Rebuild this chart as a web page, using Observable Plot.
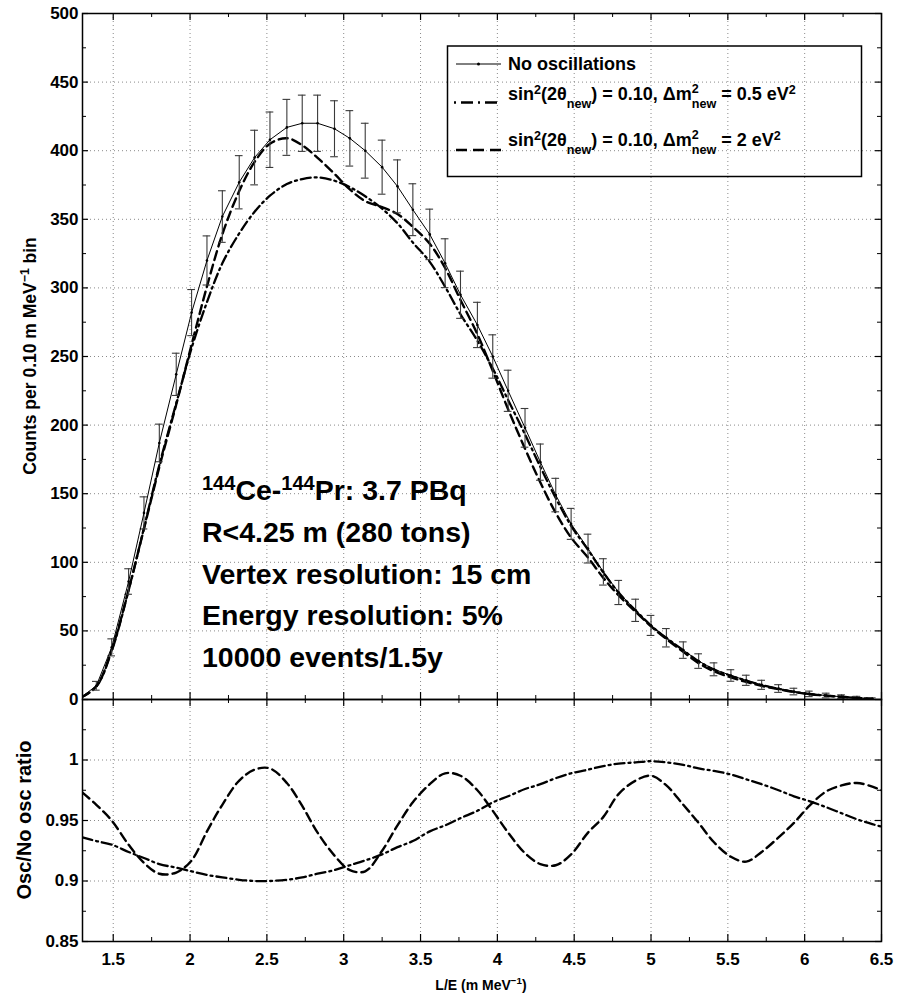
<!DOCTYPE html>
<html>
<head>
<meta charset="utf-8">
<script src="https://cdn.jsdelivr.net/npm/d3@7"></script>
<script src="https://cdn.jsdelivr.net/npm/@observablehq/plot@0.6"></script>
<style>
  body { margin: 0; background: #fff; }
  #wrap { position: relative; width: 904px; height: 996px; overflow: hidden;
          font-family: "Liberation Sans", Arial, Helvetica, sans-serif; font-weight: bold; color: #000; }
  #wrap svg { overflow: visible; }
  #topPlot { position: absolute; left: 0; top: 0; }
  #botPlot { position: absolute; left: 0; top: 699px; }
  .ov { position: absolute; white-space: nowrap; }
  .lg { font-size: 18px; line-height: 18px; }
  .sp { font-size: 0.7em; position: relative; top: -0.5em; }
  .sb { font-size: 0.7em; position: relative; top: 0.6em; }
  .stk { font-size: 0.7em; position: relative; top: 0.6em; }
  .stk2 { position: absolute; left: 0; top: -13.2px; line-height: 1; }
  .ann { font-size: 28.5px; line-height: 28px; }
  .ann .asp { font-size: 20px; position: relative; top: -0.5em; }
</style>
</head>
<body>
<div id="wrap">
  <div id="topPlot"></div>
  <div id="botPlot"></div>
  <svg id="legSvg" class="ov" style="left:0;top:0" width="904" height="699"></svg>

  <div class="ov lg" style="left:508px;top:55px">No oscillations</div>
  <div class="ov lg" style="left:508px;top:85px">sin<span class="sp">2</span>(2θ<span class="sb">new</span>) = 0.10, Δm<span class="stk">new<span class="stk2">2</span></span> = 0.5 eV<span class="sp">2</span></div>
  <div class="ov lg" style="left:508px;top:131px">sin<span class="sp">2</span>(2θ<span class="sb">new</span>) = 0.10, Δm<span class="stk">new<span class="stk2">2</span></span> = 2 eV<span class="sp">2</span></div>

  <div class="ov ann" style="left:202px;top:476px"><span class="asp">144</span>Ce-<span class="asp">144</span>Pr: 3.7 PBq</div>
  <div class="ov ann" style="left:202px;top:518px">R&lt;4.25 m (280 tons)</div>
  <div class="ov ann" style="left:202px;top:560px">Vertex resolution: 15 cm</div>
  <div class="ov ann" style="left:202px;top:601px">Energy resolution: 5%</div>
  <div class="ov ann" style="left:202px;top:643px">10000 events/1.5y</div>

  <div class="ov" style="left:30px;top:356px;font-size:17.5px;transform:translate(-50%,-50%) rotate(-90deg)">Counts per 0.10 m MeV<sup style="font-size:0.7em;line-height:0">−1</sup> bin</div>
  <div class="ov" style="left:24px;top:820px;font-size:20px;transform:translate(-50%,-50%) rotate(-90deg)">Osc/No osc ratio</div>
  <div class="ov" style="left:481px;top:985px;font-size:14px;transform:translate(-50%,-50%)">L/E (m MeV<sup style="font-size:0.7em;line-height:0">−1</sup>)</div>
</div>

<script>
// ---------------- data ----------------
const binX = [1.29, 1.39, 1.49, 1.60, 1.70, 1.80, 1.91, 2.01, 2.11, 2.21,
              2.32, 2.42, 2.52, 2.63, 2.73, 2.83, 2.94, 3.04, 3.14, 3.25,
              3.35, 3.45, 3.56, 3.66, 3.76, 3.87, 3.97, 4.07, 4.18, 4.28,
              4.38, 4.48, 4.59, 4.69, 4.79, 4.90, 5.00, 5.10, 5.21, 5.31,
              5.41, 5.52, 5.62, 5.72, 5.83, 5.93, 6.03, 6.14, 6.24, 6.34, 6.44];
const noOsc = [1.5, 10, 38, 86, 136, 187, 237, 282, 320, 352,
               377, 395, 408, 417, 420, 420, 416, 409, 400, 388,
               374, 357, 339, 318, 295, 273, 250, 225, 198, 173,
               149, 128, 110, 93, 78, 65, 54, 45, 36, 28,
               22, 17.5, 14, 10.7, 8, 5.8, 4.1, 2.9, 2, 1.2, 0.5];
const errHalf = [1.2, 3.2, 6.2, 9.3, 11.7, 13.7, 15.4, 16.8, 17.9, 18.8,
                 19.4, 19.9, 20.2, 20.4, 20.5, 20.5, 20.4, 20.2, 20.0, 19.7,
                 19.3, 18.9, 18.4, 17.8, 17.2, 16.5, 15.8, 15.0, 14.1, 13.2,
                 12.2, 11.3, 10.5, 9.6, 8.8, 8.1, 7.3, 6.7, 6.0, 5.3,
                 4.7, 4.2, 3.7, 3.3, 2.8, 2.4, 2.0, 1.7, 1.4, 1.1, 0.7];
const osc05Top = [1.4, 9.3, 35.3, 79.5, 125.0, 170.9, 215.9, 256.1, 289.6, 317.9,
                  339.7, 355.5, 367.2, 375.7, 379.3, 380.5, 378.1, 373.4, 366.8, 357.7,
                  347.1, 333.1, 319.0, 300.8, 280.8, 261.5, 241.3, 218.3, 193.2, 169.5,
                  146.8, 126.6, 109.1, 92.5, 77.8, 64.9, 53.9, 44.9, 35.9, 27.8,
                  21.8, 17.3, 13.8, 10.5, 7.8, 5.6, 4.0, 2.8, 1.9, 1.1, 0.5];
const osc2Top = [1.5, 9.6, 36.1, 80.0, 124.4, 169.4, 215.0, 258.6, 301.1, 339.0,
                 370.6, 391.8, 405.1, 409.1, 404.0, 394.8, 383.1, 371.8, 363.2, 358.9,
                 353.8, 344.5, 332.2, 314.5, 291.2, 266.2, 239.5, 211.5, 182.8, 158.1,
                 136.0, 118.0, 103.4, 88.6, 75.8, 63.9, 53.3, 44.1, 34.7, 26.5,
                 20.5, 16.1, 12.8, 9.9, 7.5, 5.5, 3.9, 2.8, 2.0, 1.2, 0.5];

const ratioX = [1.30, 1.39, 1.49, 1.60, 1.70, 1.80, 1.91, 2.01, 2.11, 2.21,
                2.32, 2.42, 2.52, 2.63, 2.73, 2.83, 2.94, 3.04, 3.14, 3.25,
                3.35, 3.45, 3.56, 3.66, 3.76, 3.87, 3.97, 4.07, 4.18, 4.28,
                4.38, 4.48, 4.59, 4.69, 4.79, 4.90, 5.00, 5.10, 5.21, 5.31,
                5.41, 5.52, 5.62, 5.72, 5.83, 5.93, 6.03, 6.14, 6.24, 6.34, 6.44, 6.50];
const ratio05 = [0.936, 0.933, 0.930, 0.924, 0.919, 0.914, 0.911, 0.908, 0.905, 0.903,
                 0.901, 0.900, 0.900, 0.901, 0.903, 0.906, 0.909, 0.913, 0.917, 0.922,
                 0.928, 0.933, 0.941, 0.946, 0.952, 0.958, 0.965, 0.970, 0.976, 0.980,
                 0.985, 0.989, 0.992, 0.995, 0.997, 0.998, 0.999, 0.998, 0.996, 0.993,
                 0.991, 0.988, 0.984, 0.980, 0.975, 0.970, 0.966, 0.961, 0.956, 0.951, 0.947, 0.945];
const ratio2 = [0.973, 0.963, 0.950, 0.930, 0.915, 0.906, 0.907, 0.917, 0.941, 0.963,
                0.983, 0.992, 0.993, 0.981, 0.962, 0.940, 0.921, 0.909, 0.908, 0.925,
                0.946, 0.965, 0.980, 0.989, 0.987, 0.975, 0.958, 0.940, 0.923, 0.914,
                0.913, 0.922, 0.940, 0.953, 0.972, 0.983, 0.987, 0.979, 0.963, 0.948,
                0.932, 0.920, 0.916, 0.924, 0.936, 0.948, 0.962, 0.974, 0.979, 0.981, 0.978, 0.975];

const xTickValues = [1.5, 2, 2.5, 3, 3.5, 4, 4.5, 5, 5.5, 6, 6.5];
const xTickLabels = ["1.5", "2", "2.5", "3", "3.5", "4", "4.5", "5", "5.5", "6", "6.5"];
const xMinorValues = [1.75, 2.25, 2.75, 3.25, 3.75, 4.25, 4.75, 5.25, 5.75, 6.25];
const countTickValues = [0, 50, 100, 150, 200, 250, 300, 350, 400, 450, 500];
const countTickLabels = ["0", "50", "100", "150", "200", "250", "300", "350", "400", "450", "500"];
const countMinorValues = [25, 75, 125, 175, 225, 275, 325, 375, 425, 475];
const ratioTickValues = [0.85, 0.9, 0.95, 1];
const ratioTickLabels = ["0.85", "0.9", "0.95", "1"];
const ratioMinorValues = [0.875, 0.925, 0.975, 1.025];

// ---------------- tables ----------------
const bins = binX.map((x, i) => ({x, n: noOsc[i], e: errHalf[i], d05: osc05Top[i], d2: osc2Top[i]}));
const barsData = bins.filter(d => d.x >= 1.3);
const ratios = ratioX.map((x, i) => ({x, r05: ratio05[i], r2: ratio2[i]}));
const xLab = new Map(xTickValues.map((v, i) => [v, xTickLabels[i]]));
const cLab = new Map(countTickValues.map((v, i) => [v, countTickLabels[i]]));
const rLab = new Map(ratioTickValues.map((v, i) => [v, ratioTickLabels[i]]));

const W = 904, ML = 82, MR = 23;
const PW = W - ML - MR;
const TOP_H = 699, TOP_MT = 13, PH_TOP = TOP_H - TOP_MT;
const BOT_H = 297, BOT_MB = 55, PH_BOT = BOT_H - BOT_MB;
const grid = {stroke: "#8a8a8a", strokeDasharray: "1,3", strokeWidth: 1};
const font = {fontFamily: "Liberation Sans, Arial, sans-serif", fontSize: "17px", fontWeight: "bold", background: "transparent", overflow: "visible"};

function tickMarks(xMaj, xMin, yMaj, yMin, PH) {
  return [
    Plot.tickX(xMaj, {x: d => d, insetTop: PH - 7, stroke: "black", strokeWidth: 1.2}),
    Plot.tickX(xMaj, {x: d => d, insetBottom: PH - 7, stroke: "black", strokeWidth: 1.2}),
    Plot.tickX(xMin, {x: d => d, insetTop: PH - 4, stroke: "black"}),
    Plot.tickX(xMin, {x: d => d, insetBottom: PH - 4, stroke: "black"}),
    Plot.tickY(yMaj, {y: d => d, insetRight: PW - 6, stroke: "black", strokeWidth: 1.2}),
    Plot.tickY(yMaj, {y: d => d, insetLeft: PW - 6, stroke: "black", strokeWidth: 1.2}),
    Plot.tickY(yMin, {y: d => d, insetRight: PW - 4, stroke: "black"}),
    Plot.tickY(yMin, {y: d => d, insetLeft: PW - 4, stroke: "black"})
  ];
}

const topChart = Plot.plot({
  width: W, height: TOP_H, marginTop: TOP_MT, marginBottom: 0, marginLeft: ML, marginRight: MR,
  style: font,
  x: {domain: [1.3, 6.5], axis: null},
  y: {domain: [0, 500], ticks: countTickValues, tickFormat: d => cLab.get(d), tickSize: 0, tickPadding: 4, label: null},
  marks: [
    Plot.ruleX(xTickValues.filter(v => v < 6.5), {x: d => d, ...grid}),
    Plot.ruleY(countTickValues.filter(v => v > 0 && v < 500), {y: d => d, ...grid}),
    Plot.line(bins, {x: "x", y: "d05", stroke: "black", strokeWidth: 2.3, strokeDasharray: "10,4,2,4", curve: "catmull-rom", clip: true}),
    Plot.line(bins, {x: "x", y: "d2", stroke: "black", strokeWidth: 2.4, strokeDasharray: "9,5", curve: "catmull-rom", clip: true}),
    Plot.ruleX(barsData, {x: "x", y1: d => d.n - d.e, y2: d => d.n + d.e, stroke: "#3a3a3a", strokeWidth: 1.1, clip: true}),
    Plot.ruleY(barsData, {y: d => d.n + d.e, x1: d => d.x - 0.025, x2: d => d.x + 0.025, stroke: "#3a3a3a", strokeWidth: 1.1, clip: true}),
    Plot.ruleY(barsData, {y: d => d.n - d.e, x1: d => d.x - 0.025, x2: d => d.x + 0.025, stroke: "#3a3a3a", strokeWidth: 1.1, clip: true}),
    Plot.line(bins, {x: "x", y: "n", stroke: "black", strokeWidth: 1, clip: true}),
    Plot.dot(barsData, {x: "x", y: "n", r: 1.3, fill: "black"}),
    ...tickMarks(xTickValues, xMinorValues, countTickValues, countMinorValues, PH_TOP),
    Plot.frame({stroke: "black", strokeWidth: 1.5})
  ]
});
document.getElementById("topPlot").appendChild(topChart);

const botChart = Plot.plot({
  width: W, height: BOT_H, marginTop: 0, marginBottom: BOT_MB, marginLeft: ML, marginRight: MR,
  style: font,
  x: {domain: [1.3, 6.5], ticks: xTickValues, tickFormat: d => xLab.get(d), tickSize: 0, tickPadding: 11, label: null},
  y: {domain: [0.85, 1.05], ticks: ratioTickValues, tickFormat: d => rLab.get(d), tickSize: 0, tickPadding: 4, label: null},
  marks: [
    Plot.ruleX(xTickValues.filter(v => v < 6.5), {x: d => d, ...grid}),
    Plot.ruleY(ratioTickValues.filter(v => v > 0.86), {y: d => d, ...grid}),
    Plot.line(ratios, {x: "x", y: "r05", stroke: "black", strokeWidth: 2.3, strokeDasharray: "10,4,2,4", curve: "catmull-rom", clip: true}),
    Plot.line(ratios, {x: "x", y: "r2", stroke: "black", strokeWidth: 2.4, strokeDasharray: "9,5", curve: "catmull-rom", clip: true}),
    ...tickMarks(xTickValues, xMinorValues, ratioTickValues, ratioMinorValues, PH_BOT),
    Plot.frame({stroke: "black", strokeWidth: 1.5})
  ]
});
document.getElementById("botPlot").appendChild(botChart);

// ---------------- legend (box + swatches) ----------------
const ns = "http://www.w3.org/2000/svg";
const leg = document.getElementById("legSvg");
function el(tag, attrs) {
  const e = document.createElementNS(ns, tag);
  for (const k in attrs) e.setAttribute(k, attrs[k]);
  leg.appendChild(e);
  return e;
}
el("rect", {x: 447.5, y: 46, width: 414, height: 130.5, fill: "none", stroke: "black", "stroke-width": 1.5});
el("line", {x1: 456, x2: 501, y1: 64, y2: 64, stroke: "black", "stroke-width": 1});
el("circle", {cx: 478.5, cy: 64, r: 1.5, fill: "black"});
el("line", {x1: 454, x2: 501, y1: 102.5, y2: 102.5, stroke: "black", "stroke-width": 2.3, "stroke-dasharray": "2,5,12,5"});
el("line", {x1: 456, x2: 502, y1: 150, y2: 150, stroke: "black", "stroke-width": 2.4, "stroke-dasharray": "11,6"});
</script>
</body>
</html>
